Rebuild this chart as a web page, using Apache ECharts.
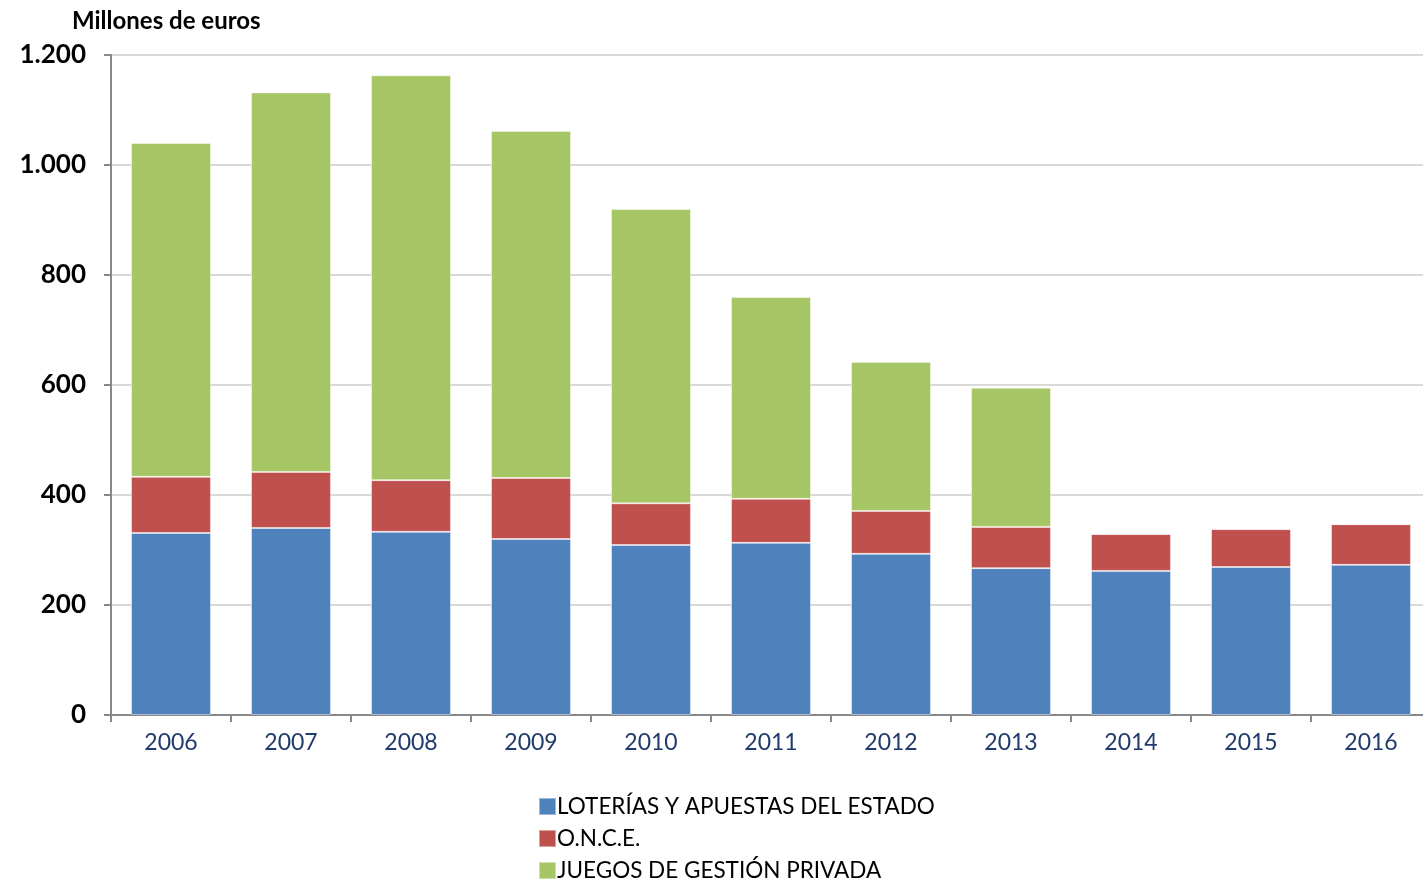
<!DOCTYPE html>
<html>
<head>
<meta charset="utf-8">
<script src="https://cdn.jsdelivr.net/npm/echarts@6/dist/echarts.min.js"></script>
<style>html,body{margin:0;padding:0;background:#fff;overflow:hidden}#c{width:1431px;height:884px}</style>
</head>
<body>
<div id="c"></div>
<script>
const categories = ['2006','2007','2008','2009','2010','2011','2012','2013','2014','2015','2016'];
const loterias = [331, 340, 333, 320, 309, 313, 293, 267, 262, 269, 273];
const once = [102, 102, 94, 111, 76, 80, 78, 75, 67, 69, 74];
const privada = [607, 690, 736, 631, 535, 367, 271, 253, 0, 0, 0];
const yTicks = [0, 200, 400, 600, 800, 1000, 1200];

const chart = echarts.init(document.getElementById('c'));
const fmt = v => String(v).replace(/\B(?=(\d{3})+(?!\d))/g, '.');
const FONT = 'Lato';
const base = { type: 'bar', stack: 'total', barWidth: 80, itemStyle: { borderColor: 'rgba(255,255,255,0.45)', borderWidth: 1 } };
chart.setOption({
  animation: false,
  title: { text: 'Millones de euros', left: 67, top: 4, textStyle: { fontFamily: FONT, fontWeight: 'bold', fontSize: 24, color: '#000' } },
  grid: { left: 111, top: 55, height: 660, width: 1320 },
  xAxis: {
    type: 'category', data: categories,
    axisLine: { lineStyle: { color: '#888', width: 2 } },
    axisTick: { show: true, length: 7, lineStyle: { color: '#888', width: 2 } },
    axisLabel: { fontFamily: FONT, fontSize: 23, color: '#1f3a6b', margin: 16 }
  },
  yAxis: {
    type: 'value', min: 0, max: 1200, interval: 200,
    axisLine: { show: true, lineStyle: { color: '#888', width: 2 } },
    axisTick: { show: true, length: 7, lineStyle: { color: '#888', width: 2 } },
    splitLine: { lineStyle: { color: '#d9d9d9', width: 2 } },
    axisLabel: { fontFamily: FONT, fontWeight: 'bold', fontSize: 26, color: '#000', margin: 25, formatter: v => yTicks.includes(v) ? fmt(v) : '' }
  },
  legend: {
    orient: 'vertical', left: 533, top: 790, height: 100, itemWidth: 17, itemHeight: 17, itemGap: 9,
    icon: 'rect',
    textStyle: { fontFamily: FONT, fontSize: 22.5, color: '#000', padding: [0, 0, 0, -4] },
    data: ['LOTERÍAS Y APUESTAS DEL ESTADO', 'O.N.C.E.', 'JUEGOS DE GESTIÓN PRIVADA']
  },
  series: [
    Object.assign({}, base, { name: 'LOTERÍAS Y APUESTAS DEL ESTADO', data: loterias, color: '#4f81bd' }),
    Object.assign({}, base, { name: 'O.N.C.E.', data: once, color: '#c0504d' }),
    Object.assign({}, base, { name: 'JUEGOS DE GESTIÓN PRIVADA', data: privada, color: '#9bbb59', itemStyle: { color: '#a6c564', borderColor: 'rgba(255,255,255,0.45)', borderWidth: 1 } })
  ]
});
</script>
</body>
</html>
